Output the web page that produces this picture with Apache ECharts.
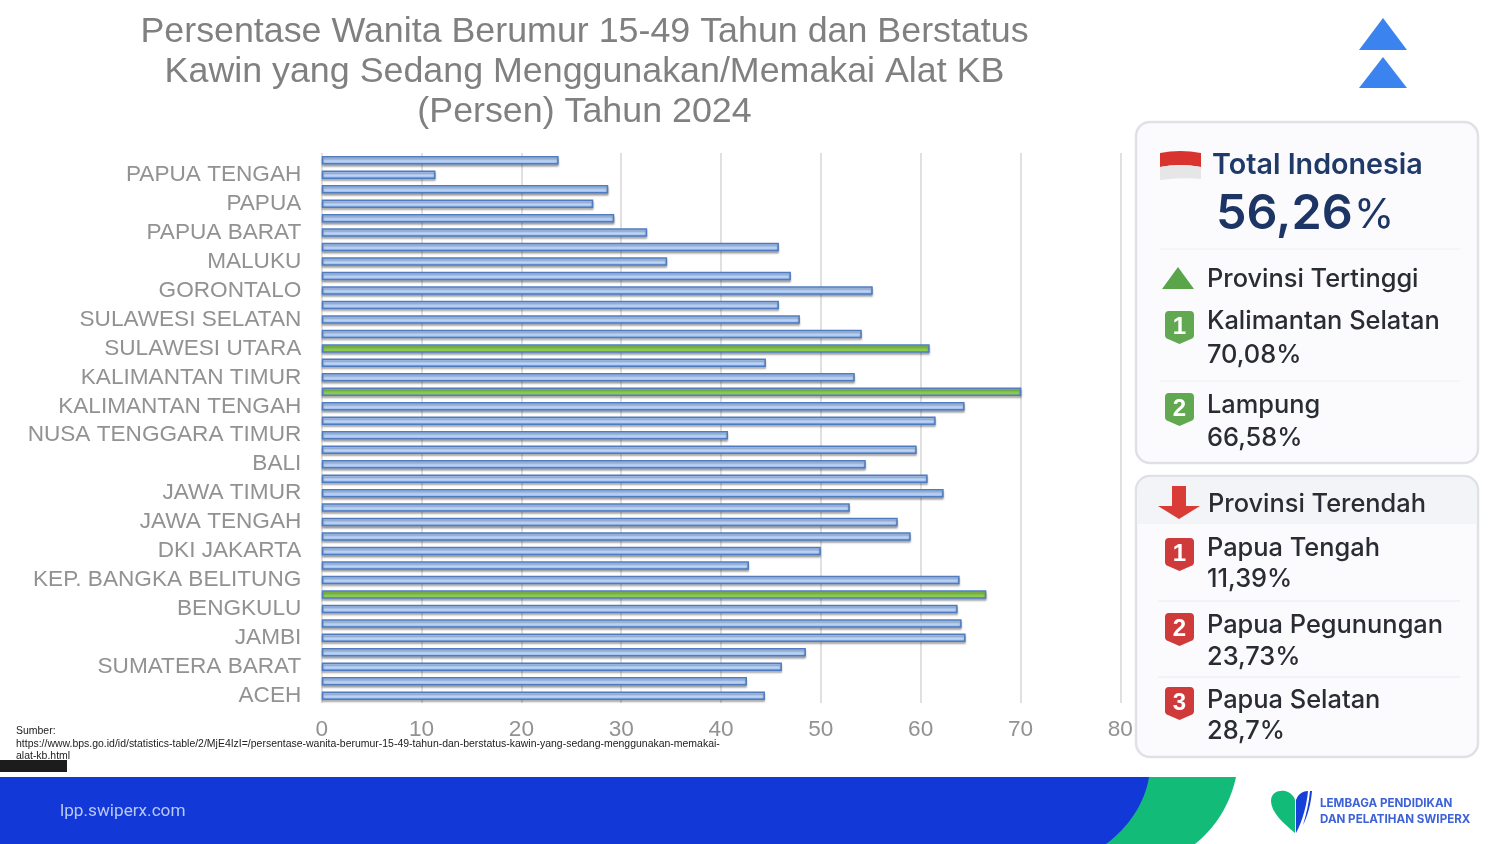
<!DOCTYPE html>
<html><head><meta charset="utf-8">
<style>html,body{margin:0;padding:0;background:#fff}#c{width:1500px;height:844px}</style>
<script src="https://cdn.jsdelivr.net/npm/echarts@6/dist/echarts.min.js"></script>
</head><body><div id="c"></div>
<script>
const titleText = "Persentase Wanita Berumur 15-49 Tahun dan Berstatus\nKawin yang Sedang Menggunakan/Memakai Alat KB\n(Persen) Tahun 2024";
const provinces = ["ACEH","SUMATERA UTARA","SUMATERA BARAT","RIAU","JAMBI","SUMATERA SELATAN","BENGKULU","LAMPUNG","KEP. BANGKA BELITUNG","KEP. RIAU","DKI JAKARTA","JAWA BARAT","JAWA TENGAH","DI YOGYAKARTA","JAWA TIMUR","BANTEN","BALI","NUSA TENGGARA BARAT","NUSA TENGGARA TIMUR","KALIMANTAN BARAT","KALIMANTAN TENGAH","KALIMANTAN SELATAN","KALIMANTAN TIMUR","KALIMANTAN UTARA","SULAWESI UTARA","SULAWESI TENGAH","SULAWESI SELATAN","SULAWESI TENGGARA","GORONTALO","SULAWESI BARAT","MALUKU","MALUKU UTARA","PAPUA BARAT","PAPUA BARAT DAYA","PAPUA","PAPUA SELATAN","PAPUA TENGAH","PAPUA PEGUNUNGAN"];
const values = [44.4,42.6,46.1,48.5,64.5,64.1,63.7,66.58,63.9,42.8,50.0,59.0,57.7,52.9,62.3,60.7,54.5,59.6,40.7,61.5,64.4,70.08,53.4,44.5,60.9,54.1,47.9,45.8,55.2,47.0,34.6,45.8,32.6,29.3,27.2,28.7,11.39,23.73];
const highlighted = ["KALIMANTAN SELATAN","LAMPUNG","SULAWESI UTARA"];
const sourceText = ["Sumber:","https://www.bps.go.id/id/statistics-table/2/MjE4IzI=/persentase-wanita-berumur-15-49-tahun-dan-berstatus-kawin-yang-sedang-menggunakan-memakai-","alat-kb.html"];

const sans = "Liberation Sans, Arial, sans-serif";
const ui = "Inter, Roboto, sans-serif";
const grad = (a,b,c)=>new echarts.graphic.LinearGradient(0,0,0,1,[{offset:0,color:a},{offset:.6,color:b},{offset:1,color:c}]);
const txt = (x,y,t,size,color,weight,extra)=>({type:'text',x,y,silent:true,style:Object.assign({text:t,font:`${weight||500} ${size}px ${ui}`,fill:color,verticalAlign:'middle'},extra||{})});
let shapeId=0;
const shape = (d,fill)=>{const name='sk'+(shapeId++);echarts.graphic.registerShape(name,echarts.graphic.extendPath(d,{}));return {type:name,silent:true,shape:{},style:{fill}};};
const badge=(x,y,n,c)=>[
  shape(`M${x+4} ${y} L${x+25} ${y} Q${x+29} ${y} ${x+29} ${y+4} L${x+29} ${y+24} Q${x+29} ${y+27} ${x+26} ${y+28} L${x+14.5} ${y+33} L${x+3} ${y+28} Q${x} ${y+27} ${x} ${y+24} L${x} ${y+4} Q${x} ${y} ${x+4} ${y} Z`,c),
  txt(x+14.5,y+16,n,24,'#ffffff',700,{align:'center',font:`700 24px ${sans}`})
];
const dark='#2a2c33';
const fs=25.4;
const graphics=[
  shape('M1383 18 L1407 50 L1359 50 Z','#3b83ee'),
  shape('M1383 57 L1407 88 L1359 88 Z','#3b83ee'),
  {type:'rect',silent:true,shape:{x:1136,y:122,width:342,height:341,r:14},style:{fill:'#fbfbfd',stroke:'#dfe1e7',lineWidth:2.5}},
  {type:'rect',silent:true,shape:{x:1136,y:476,width:342,height:281,r:14},style:{fill:'#fbfbfd',stroke:'#dfe1e7',lineWidth:2.5}},
  shape('M1138 524 L1138 490 Q1138 478 1150 478 L1464 478 Q1476 478 1476 490 L1476 524 Z','#f3f4f7'),
  shape('M1160 153 Q1180 149 1201 153 L1201 167 Q1180 163 1160 167 Z','#d8332f'),
  shape('M1160 167 Q1180 163 1201 167 L1201 179 Q1180 177 1160 180 Z','#e6e6e6'),
  txt(1212,165,'Total Indonesia',28.7,'#1f3a68',600),
  txt(1216,214,'56,26',48.5,'#1d3565',600),
  txt(1354,216,'%',41,'#1d3565',400),
  {type:'line',silent:true,shape:{x1:1160,y1:249,x2:1460,y2:249},style:{stroke:'#eceef1',lineWidth:1}},
  shape('M1178 267 L1194 289 L1162 289 Z','#5aa54a'),
  txt(1207,279,'Provinsi Tertinggi',fs,dark),
  ...badge(1165,311,'1','#62a850'),
  txt(1207,321,'Kalimantan Selatan',fs,dark),
  txt(1207,355,'70,08%',fs,dark),
  {type:'line',silent:true,shape:{x1:1160,y1:381,x2:1460,y2:381},style:{stroke:'#eceef1',lineWidth:1}},
  ...badge(1165,393,'2','#62a850'),
  txt(1207,405,'Lampung',fs,dark),
  txt(1207,438,'66,58%',fs,dark),
  shape('M1172 486 L1186 486 L1186 506 L1200 506 L1179 519 L1158 506 L1172 506 Z','#d93c36'),
  txt(1208,504,'Provinsi Terendah',fs,dark),
  ...badge(1165,538,'1','#cf3b3b'),
  txt(1207,548,'Papua Tengah',fs,dark),
  txt(1207,579,'11,39%',fs,dark),
  {type:'line',silent:true,shape:{x1:1158,y1:601,x2:1460,y2:601},style:{stroke:'#e8eaee',lineWidth:1}},
  ...badge(1165,613,'2','#cf3b3b'),
  txt(1207,625,'Papua Pegunungan',fs,dark),
  txt(1207,657,'23,73%',fs,dark),
  {type:'line',silent:true,shape:{x1:1158,y1:677,x2:1460,y2:677},style:{stroke:'#e8eaee',lineWidth:1}},
  ...badge(1165,687,'3','#cf3b3b'),
  txt(1207,700,'Papua Selatan',fs,dark),
  txt(1207,731,'28,7%',fs,dark),
  txt(16,731,sourceText[0],10.48,'#222222',400,{font:`400 10.48px ${sans}`}),
  txt(16,744,sourceText[1],10.48,'#222222',400,{font:`400 10.48px ${sans}`}),
  txt(16,756,sourceText[2],10.48,'#222222',400,{font:`400 10.48px ${sans}`}),
  {type:'rect',silent:true,shape:{x:0,y:760,width:67,height:12},style:{fill:'#1c1c1c'}},
  shape('M0 777 L1236 777 C1230 805 1215 828 1195 844 L0 844 Z','#12bc78'),
  shape('M0 777 L1149 777 C1145 803 1128 828 1106 844 L0 844 Z','#1238d8'),
  txt(60,812,'lpp.swiperx.com',17.2,'#b9c8f5',400,{font:`400 17.2px Roboto, ${sans}`}),
  shape('M1295 833 C1283 823 1271 812 1271 801 C1271 792 1279 790 1285 791 C1290 792 1294 796 1295 800 Z','#12bc78'),
  shape('M1296 833 L1296 800 C1298 794 1303 791 1308 791 C1307 803 1303 820 1296 833 Z','#1640d8'),
  shape('M1310 791 L1312 791 C1311 803 1308 815 1303 825 C1306 815 1309 803 1310 791 Z','#1640d8'),
  txt(1320,804,'LEMBAGA PENDIDIKAN',11.6,'#3d62d8',700),
  txt(1320,820,'DAN PELATIHAN SWIPERX',11.6,'#3d62d8',700)
];

const chart=echarts.init(document.getElementById('c'));
chart.setOption({
  animation:false,
  backgroundColor:'#ffffff',
  title:{text:titleText,left:579.5,textAlign:'center',top:7,textStyle:{fontFamily:sans,fontSize:35.8,fontWeight:400,color:'#808080',lineHeight:40}},
  grid:{left:321.8,top:153,width:798.5,height:550,containLabel:false},
  xAxis:{type:'value',min:0,max:80,interval:10,
    axisLine:{show:false},axisTick:{show:false},
    axisLabel:{fontFamily:sans,fontSize:22.6,color:'#929292',margin:15},
    splitLine:{show:true,lineStyle:{color:'#d6d6d6',width:1.5}}},
  yAxis:{type:'category',data:provinces,
    axisLine:{show:false},axisTick:{show:false},
    axisLabel:{interval:1,fontFamily:sans,fontSize:22.6,color:'#929292',margin:20.5,padding:[5,0,0,0]}},
  series:[{type:'bar',barWidth:8.5,
    data:values.map((v,i)=>highlighted.includes(provinces[i])
      ?{value:v,itemStyle:{color:'#8ccb52',borderColor:'#4f7fc2',borderWidth:1.5,shadowColor:'rgba(0,0,0,0.3)',shadowBlur:2,shadowOffsetY:2}}
      :v),
    itemStyle:{color:grad('#a9c9f8','#c0d8fb','#7aa5ea'),borderColor:'#4f7cc0',borderWidth:1.5,shadowColor:'rgba(0,0,0,0.3)',shadowBlur:2,shadowOffsetY:2}}],
  graphic:{elements:graphics}
});
</script></body></html>
